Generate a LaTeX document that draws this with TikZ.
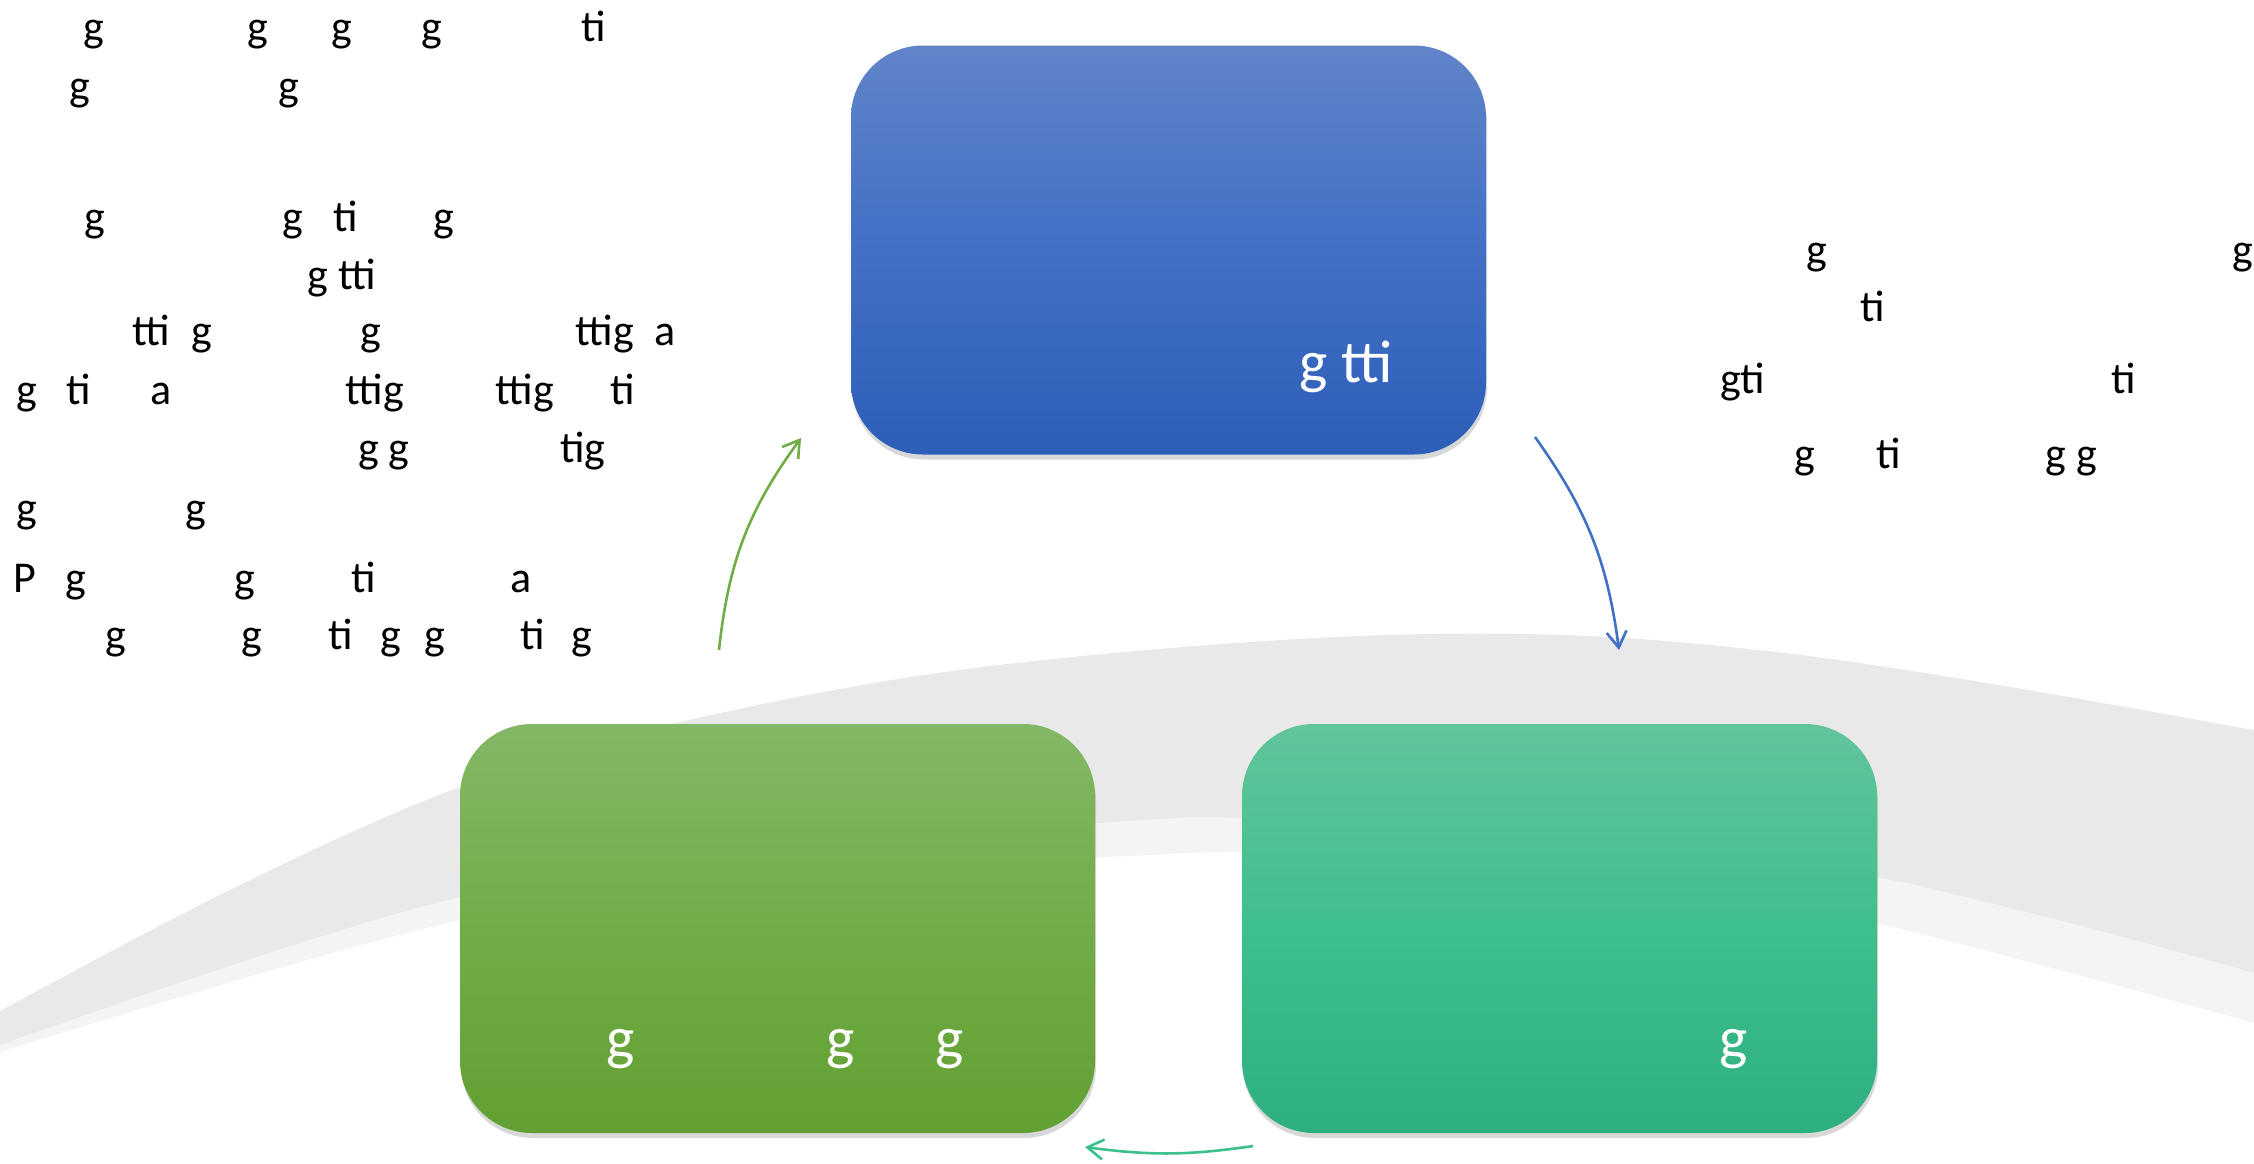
\documentclass[tikz,border=0pt]{standalone}
\usepackage{fontspec}
\setmainfont{Carlito}
\definecolor{cycbluetop}{RGB}{97,132,201}
\definecolor{cycblue}{RGB}{66,112,197}
\definecolor{cycbluebot}{RGB}{45,94,184}
\definecolor{cycgreentop}{RGB}{131,184,102}
\definecolor{cycgreen}{RGB}{112,173,71}
\definecolor{cycgreenbot}{RGB}{98,160,51}
\definecolor{cycntealtop}{RGB}{98,196,155}
\definecolor{cycteal}{RGB}{62,191,142}
\definecolor{cyctealbot}{RGB}{46,175,127}
\definecolor{arcdark}{RGB}{233,233,233}
\definecolor{arclight}{RGB}{244,244,244}
\usepackage{tikz}
\usetikzlibrary{arrows.meta, positioning, shadows}

\tikzset{
  stagebox/.style={rounded corners=36pt, minimum width=317.5pt, minimum height=204.5pt,
    inner sep=0pt, drop shadow={shadow xshift=0.5pt, shadow yshift=-2.5pt, opacity=0.3}},
  outtxt/.style={anchor=base, inner sep=0pt, font=\fontsize{22}{26}\selectfont},
  intxt/.style={anchor=base, inner sep=0pt, text=white, font=\fontsize{30}{36}\selectfont},
  cyc/.style={-{Straight Barb[length=8pt, width=10pt]}, line width=1.3pt}
}

\begin{document}
\begin{tikzpicture}[x=0.5pt, y=-0.5pt]
  \useasboundingbox (0,0) rectangle (2254,1163);
  \fill[white] (0,0) rectangle (2254,1163);

  % background arc
  \fill[arclight] plot[smooth, tension=0.6] coordinates {(-20,1022) (230,890) (460,787) (676,723) (1000,665) (1437,634) (1800,655) (2280,735)}
    -- plot[smooth, tension=0.6] coordinates {(2280,1030) (1877,923) (1600,870) (1300,853) (1128,856) (800,877) (460,920) (-20,1058)} -- cycle;
  \fill[arcdark] plot[smooth, tension=0.6] coordinates {(-20,1022) (230,890) (460,787) (676,723) (1000,665) (1437,634) (1800,655) (2280,735)}
    -- plot[smooth, tension=0.6] coordinates {(2280,980) (1877,877) (1500,827) (1250,818) (1128,821) (800,850) (440,902) (-20,1052)} -- cycle;

  % the three stages
  \node[stagebox, top color=cycbluetop, bottom color=cycbluebot, middle color=cycblue] (plan) at (1168.5,250) {};
  \node[stagebox, top color=cycgreentop, bottom color=cycgreenbot, middle color=cycgreen] (act) at (777.5,928.5) {};
  \node[stagebox, top color=cycntealtop, bottom color=cyctealbot, middle color=cycteal] (check) at (1559.5,928.5) {};

  \node[intxt] (plantxt) at (1346,382) {g tti};
  \node[intxt] (acttxt1) at (621,1058) {g};
  \node[intxt] (acttxt2) at (841,1058) {g};
  \node[intxt] (acttxt3) at (950,1058) {g};
  \node[intxt] (checktxt) at (1734,1058) {g};

  % cycle arrows
  \coordinate (grnfrom) at (719,650);
  \coordinate (grnto) at (801,438);
  \coordinate (blufrom) at (1535,437);
  \coordinate (bluto) at (1619,650);
  \coordinate (tealfrom) at (1253,1146);
  \coordinate (tealto) at (1085,1147);
  \draw[cyc, cycgreen] (grnfrom) to[bend left=15] (grnto);
  \draw[cyc, cycblue] (blufrom) to[bend left=14] (bluto);
  \draw[cyc, cycteal] (tealfrom) to[bend left=8] (tealto);

  % left notes
  \foreach \x/\t [count=\i] in {94/g, 258/g, 342/g, 432/g, 594/ti}
    \node[outtxt] (la\i) at (\x,41) {\t};
  \foreach \x/\t [count=\i] in {80/g, 289/g}
    \node[outtxt] (lb\i) at (\x,100) {\t};
  \foreach \x/\t [count=\i] in {95/g, 293/g, 346/ti, 444/g}
    \node[outtxt] (lc\i) at (\x,231) {\t};
  \node[outtxt] (ld1) at (342,289) {g tti};
  \foreach \x/\t [count=\i] in {151/tti, 202/g, 371/g, 605/ttig, 665/a}
    \node[outtxt] (le\i) at (\x,345) {\t};
  \foreach \x/\t [count=\i] in {27/g, 79/ti, 161/a, 375/ttig, 525/ttig, 623/ti}
    \node[outtxt] (lf\i) at (\x,404) {\t};
  \foreach \x/\t [count=\i] in {384/{g g}, 583/tig}
    \node[outtxt] (lg\i) at (\x,462) {\t};
  \foreach \x/\t [count=\i] in {27/g, 196/g}
    \node[outtxt] (lh\i) at (\x,522) {\t};
  \foreach \x/\t [count=\i] in {25/P, 76/g, 245/g, 364/ti, 521/a}
    \node[outtxt] (li\i) at (\x,592) {\t};
  \foreach \x/\t [count=\i] in {116/g, 252/g, 341/ti, 391/g, 435/g, 533/ti, 582/g}
    \node[outtxt] (lj\i) at (\x,649) {\t};

  % right notes
  \node[outtxt] (ra1) at (1817,264) {g};
  \node[outtxt] (ra2) at (2243,264) {g};
  \node[outtxt] (rb1) at (1873,321) {ti};
  \node[outtxt] (rc1) at (1743,393) {gti};
  \node[outtxt] (rc2) at (2124,393) {ti};
  \foreach \x/\t [count=\i] in {1805/g, 1889/ti, 2071/{g g}}
    \node[outtxt] (rd\i) at (\x,468) {\t};
\end{tikzpicture}
\end{document}
